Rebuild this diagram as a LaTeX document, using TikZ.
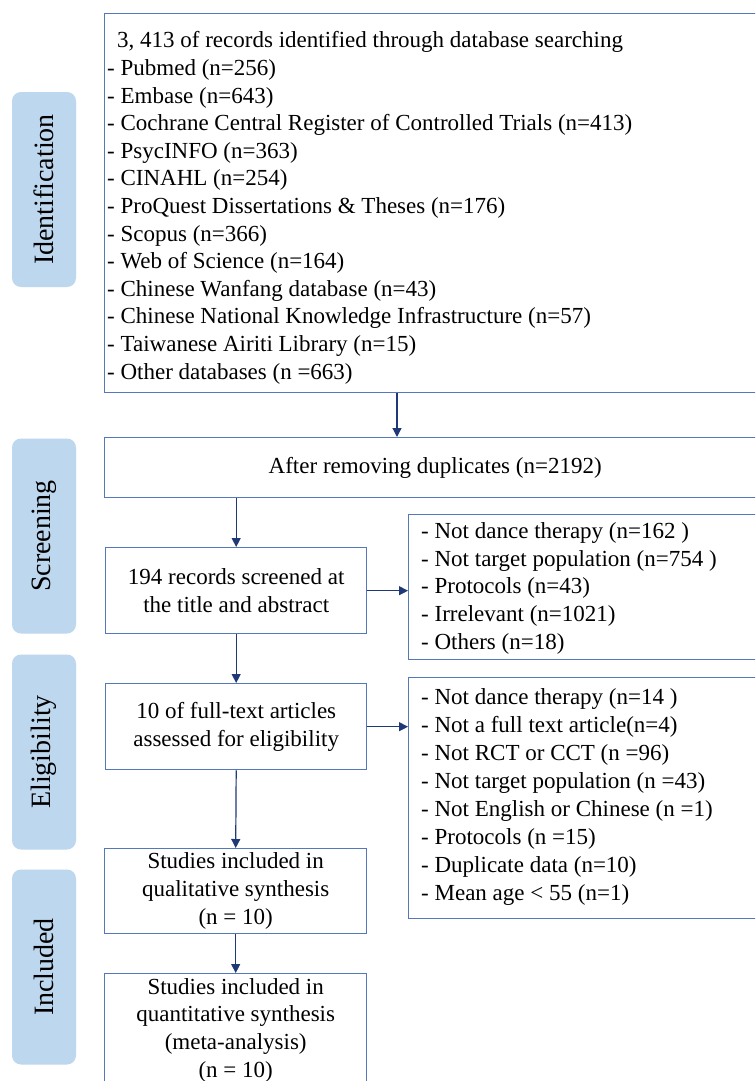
\documentclass[tikz,border=0pt]{standalone}
\usepackage{fontspec}
\setmainfont{Liberation Serif}
\usetikzlibrary{arrows.meta}
\definecolor{boxblue}{RGB}{84,120,186}
\definecolor{arrblue}{RGB}{31,56,120}
\definecolor{labfill}{RGB}{189,215,238}
\begin{document}
\begin{tikzpicture}[x=1pt,y=-1pt,
  box/.style={draw=boxblue,line width=1.4pt,inner sep=0pt,anchor=north west,
    align=center,font=\fontsize{23}{27.8}\selectfont},
  lab/.style={fill=labfill,rounded corners=9pt,inner sep=0pt,rotate=90,
    minimum width=195pt,minimum height=64pt,font=\fontsize{28}{30}\selectfont},
  txt/.style={font=\fontsize{23}{27.6}\selectfont,inner sep=0pt,align=left,anchor=base west},
  arr/.style={draw=arrblue,line width=1.2pt,-{Triangle[width=9pt,length=9pt]}}
]
\useasboundingbox (0,0) rectangle (755,1081);
\fill[white] (0,0) rectangle (755,1081);
\clip (0,0) rectangle (755,1081);

% stage labels
\node[lab] (lid) at (44,189.5) {Identification};
\node[lab] (lsc) at (44,536) {Screening};
\node[lab] (lel) at (44,752) {Eligibility};
\node[lab] (lin) at (44,967) {Included};

% boxes
\node[box,minimum width=720pt,minimum height=379pt] (id) at (104,13) {};
\node[box,minimum width=661pt,minimum height=60pt] (dup) at (104,437) {After removing duplicates (n=2192)};
\node[box,minimum width=261pt,minimum height=86pt] (scr) at (105,547) {194 records screened at\\the title and abstract};
\node[box,minimum width=420pt,minimum height=145pt] (ex1) at (408,514) {};
\node[box,minimum width=261pt,minimum height=86pt] (ft) at (105,683) {10 of full-text articles\\assessed for eligibility};
\node[box,minimum width=420pt,minimum height=241pt] (ex2) at (408,677) {};
\node[box,minimum width=262pt,minimum height=85pt] (qual) at (104,848) {Studies included in\\qualitative synthesis\\(n = 10)};
\node[box,minimum width=262pt,minimum height=113pt] (quant) at (104,973) {Studies included in\\quantitative synthesis\\(meta-analysis)\\(n = 10)};

% texts (base anchor = baseline of last line)
\node[txt] (idt) at (107,379) {\hspace*{10pt}3, 413 of records identified through database searching\\
- Pubmed (n=256)\\
- Embase (n=643)\\
- Cochrane Central Register of Controlled Trials (n=413)\\
- PsycINFO (n=363)\\
- CINAHL (n=254)\\
- ProQuest Dissertations \& Theses (n=176)\\
- Scopus (n=366)\\
- Web of Science (n=164)\\
- Chinese Wanfang database (n=43)\\
- Chinese National Knowledge Infrastructure (n=57)\\
- Taiwanese Airiti Library (n=15)\\
- Other databases (n =663)};

\node[txt] (ex1t) at (421,649) {- Not dance therapy (n=162 )\\
- Not target population (n=754 )\\
- Protocols (n=43)\\
- Irrelevant (n=1021)\\
- Others (n=18)};

\node[txt,font=\fontsize{23}{28}\selectfont] (ex2t) at (421,900) {- Not dance therapy (n=14 )\\
- Not a full text article(n=4)\\
- Not RCT or CCT (n =96)\\
- Not target population (n =43)\\
- Not English or Chinese (n =1)\\
- Protocols (n =15)\\
- Duplicate data (n=10)\\
- Mean age < 55 (n=1)};

% connectors
\draw[arr] ([xshift=293pt]id.south west) -- ([xshift=293pt]dup.north west);
\draw[arr] (dup.south -| scr.north) -- (scr.north);
\draw[arr] (scr.east) -- (scr.east -| ex1.west);
\draw[arr] (scr.south) -- (ft.north);
\draw[arr] (ft.east) -- (ft.east -| ex2.west);
\draw[arr] (ft.south) -- (qual.north);
\draw[arr] (qual.south) -- (quant.north);
\end{tikzpicture}
\end{document}
